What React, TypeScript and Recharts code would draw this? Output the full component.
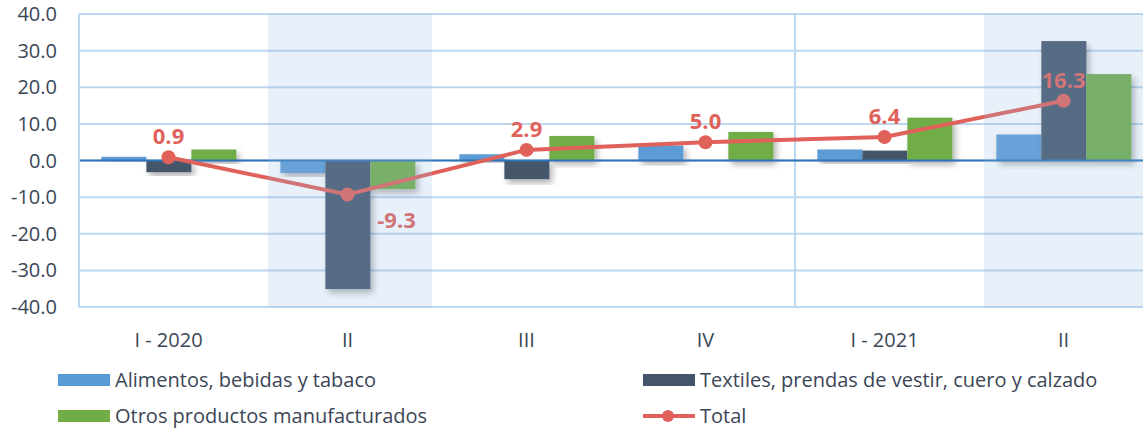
import React from "react"
import {
  ComposedChart,
  Bar,
  Line,
  XAxis,
  YAxis,
  CartesianGrid,
  ReferenceLine,
  ReferenceArea,
  LabelList,
} from "recharts"

const periods = ["2020-I", "2020-II", "2020-III", "2020-IV", "2021-I", "2021-II"]
const tickLabels = ["I - 2020", "II", "III", "IV", "I - 2021", "II"]
const alimentos = [1.0, -3.4, 1.7, 4.1, 3.0, 7.1]
const textiles = [-3.2, -35.1, -5.1, 0.0, 2.7, 32.6]
const otros = [3.0, -7.8, 6.7, 7.8, 11.7, 23.6]
const total = [0.9, -9.3, 2.9, 5.0, 6.4, 16.3]
const yTicks = [-40, -30, -20, -10, 0, 10, 20, 30, 40]
const shaded = ["2020-II", "2021-II"]

const data = periods.map((p, i) => ({
  period: p,
  alimentos: alimentos[i],
  textiles: textiles[i],
  otros: otros[i],
  total: total[i],
}))

const FONT = "'Open Sans', 'Noto Sans', sans-serif"
const BLUE = "#5b9bd5"
const DARK = "#44546a"
const GREEN = "#70ad47"
const RED = "#e0615a"
const GRID = "#bdd7ee"
const TEXT = "#3b4656"

const ShadowBar = (props: any) => {
  const { x, y, width, height, fill } = props
  if (!height) return null
  const h = Math.abs(height)
  const top = height < 0 ? y + height : y
  return <rect x={x} y={top} width={width} height={h} fill={fill} filter="url(#barShadow)" />
}

const TotalLabel = (props: any) => {
  const { x, y, value } = props
  const neg = value < 0
  return (
    <text
      x={neg ? x + 49 : x}
      y={neg ? y + 24 : y - 22}
      textAnchor="middle"
      dominantBaseline="central"
      fill={RED}
      fontSize={22}
      fontWeight={700}
      fontFamily={FONT}
    >
      {value.toFixed(1)}
    </text>
  )
}

const Shade = (props: any) => {
  const { x, y, width, height } = props
  return <rect x={x + 10} y={y} width={width - 15} height={height} fill="rgba(150,187,228,0.22)" />
}

function LegendRow() {
  const item = (left: number, top: number, swatch: React.ReactNode, label: string) => (
    <div style={{ position: "absolute", left, top, display: "flex", alignItems: "center" }}>
      {swatch}
      <span style={{ marginLeft: 5, fontSize: 20, color: TEXT }}>{label}</span>
    </div>
  )
  const box = (c: string) => <div style={{ width: 52, height: 12, background: c }} />
  const line = (
    <svg width={52} height={16}>
      <line x1={0} y1={8} x2={52} y2={8} stroke={RED} strokeWidth={4} />
      <circle cx={25} cy={8} r={6} fill={RED} />
    </svg>
  )
  return (
    <>
      {item(58, 366, box(BLUE), "Alimentos, bebidas y tabaco")}
      {item(643, 366, box(DARK), "Textiles, prendas de vestir, cuero y calzado")}
      {item(58, 402, box(GREEN), "Otros productos manufacturados")}
      {item(643, 402, line, "Total")}
    </>
  )
}

export default function App() {
  return (
    <div
      style={{
        position: "fixed",
        left: 0,
        top: 0,
        width: 1143,
        height: 433,
        overflow: "hidden",
        background: "#fff",
        fontFamily: FONT,
      }}
    >
      <ComposedChart
        width={1160}
        height={433}
        data={data}
        margin={{ top: 14, right: 7, left: 0, bottom: 76 }}
        barCategoryGap="12.5%"
        barGap={0}
      >
        <defs>
          <filter id="barShadow" x="-20%" y="-20%" width="150%" height="150%">
            <feDropShadow dx={3} dy={4} stdDeviation={3} floodColor="#000" floodOpacity={0.3} />
          </filter>
        </defs>
        <CartesianGrid stroke={GRID} strokeWidth={2} vertical={false} />
        <XAxis
          dataKey="period"
          tickFormatter={(_v: string, i: number) => tickLabels[i]}
          axisLine={{ stroke: GRID, strokeWidth: 2 }}
          tickLine={false}
          tick={{ fill: TEXT, fontSize: 20, fontFamily: FONT }}
          tickMargin={20}
          height={50}
          interval={0}
        />
        <YAxis
          domain={[-40, 40]}
          ticks={yTicks}
          tickFormatter={(v: number) => v.toFixed(1)}
          axisLine={{ stroke: GRID, strokeWidth: 2 }}
          tickLine={false}
          tick={{ fill: TEXT, fontSize: 20, fontFamily: FONT }}
          tickMargin={16}
          width={79}
          interval={0}
        />
        <ReferenceLine x="2021-I" position="start" stroke={GRID} strokeWidth={2} />
        <Bar dataKey="alimentos" fill={BLUE} shape={ShadowBar} isAnimationActive={false} />
        <Bar dataKey="textiles" fill={DARK} shape={ShadowBar} isAnimationActive={false} />
        <Bar dataKey="otros" fill={GREEN} shape={ShadowBar} isAnimationActive={false} />
        <ReferenceLine y={0} stroke="#2e75b6" strokeWidth={2} />
        <Line
          dataKey="total"
          stroke={RED}
          strokeWidth={4}
          dot={{ r: 7, fill: RED, stroke: "none" }}
          activeDot={false}
          isAnimationActive={false}
        >
          <LabelList dataKey="total" content={TotalLabel} />
        </Line>
        {shaded.map((s) => (
          <ReferenceArea key={s} x1={s} x2={s} y1={-40} y2={40} shape={Shade} zIndex={2000} />
        ))}
      </ComposedChart>
      <LegendRow />
    </div>
  )
}
